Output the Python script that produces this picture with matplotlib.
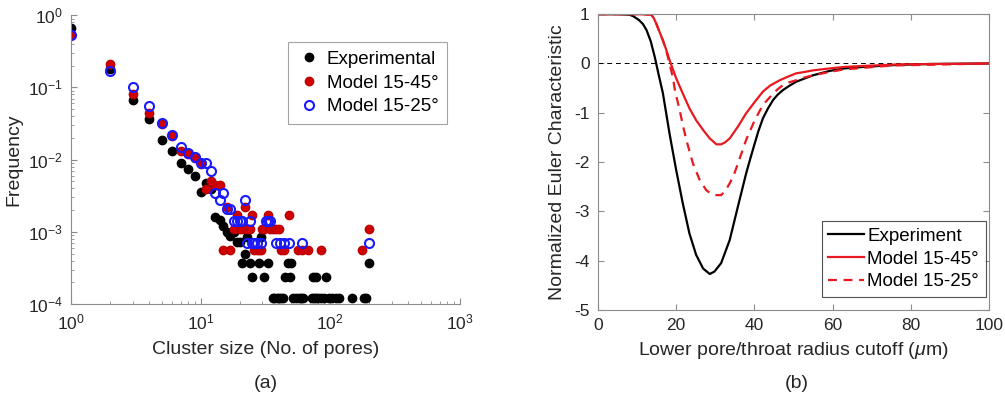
import numpy as np
import matplotlib
matplotlib.use("Agg")
import matplotlib.pyplot as plt

plt.rcParams['font.family'] = ['Liberation Sans', 'DejaVu Sans']
plt.rcParams['mathtext.fontset'] = 'custom'
plt.rcParams['mathtext.rm'] = 'Liberation Sans'
plt.rcParams['mathtext.it'] = 'Liberation Sans:italic'
plt.rcParams['axes.unicode_minus'] = False

# --- (a) cluster size distributions ---
exp_size = [1, 2, 3, 4, 5, 6, 7, 8, 9, 10, 11, 12, 13, 14, 15, 16, 17, 18, 19, 20,
            21, 22, 23, 24, 25, 28, 29, 31, 33, 36, 37, 39, 40, 42, 43, 45, 47, 49, 50,
            52, 54, 57, 59, 62, 72, 74, 75, 77, 78, 81, 85, 90, 93, 98, 104, 110, 116,
            147, 183, 190, 200]
exp_freq = [0.66, 0.18, 0.066, 0.037, 0.019, 0.0132, 0.0091, 0.0074, 0.0059, 0.0036,
            0.0047, 0.0039, 0.0016, 0.00145, 0.0012, 0.0010, 0.00089, 0.00098, 0.00073,
            0.00073, 0.00037, 0.00049, 0.00085, 0.00037, 0.00024, 0.00037, 0.00085,
            0.00024, 0.00037, 0.00012, 0.00012, 0.00012, 0.00012, 0.00012, 0.00012,
            0.00024, 0.00037, 0.00024, 0.00037, 0.00012, 0.00012, 0.00012, 0.00012,
            0.00012, 0.00012, 0.00024, 0.00012, 0.00024, 0.00012, 0.00012, 0.00012,
            0.00012, 0.00024, 0.00012, 0.00012, 0.00012, 0.00012, 0.00012, 0.00012,
            0.00012, 0.00037]

m45_size = [1, 2, 3, 4, 5, 6, 7, 8, 9, 10, 11, 12, 13, 14, 15, 16, 17, 18, 19, 20,
            21, 22, 23, 24, 25, 26, 27, 28, 29, 30, 31, 33, 34, 36, 38, 40, 42, 44, 48,
            56, 61, 67, 85, 177, 200]
m45_freq = [0.53, 0.21, 0.081, 0.044, 0.031, 0.021, 0.013, 0.012, 0.0105, 0.0088,
            0.0039, 0.0050, 0.0045, 0.0045, 0.00056, 0.0022, 0.00056, 0.0011, 0.0017,
            0.0011, 0.0011, 0.0022, 0.0011, 0.0011, 0.0017, 0.00056, 0.00056, 0.00056,
            0.00056, 0.0011, 0.0011, 0.0017, 0.0011, 0.0011, 0.0011, 0.0011, 0.00056,
            0.00056, 0.0017, 0.00056, 0.00056, 0.00056, 0.00056, 0.00056, 0.0011]

m25_size = [1, 2, 3, 4, 5, 6, 7, 8, 9, 10, 11, 12, 13, 14, 15, 16, 17, 18, 19, 20,
            21, 22, 23, 24, 25, 26, 27, 29, 32, 33, 34, 38, 41, 44, 48, 61, 200]
m25_freq = [0.53, 0.17, 0.10, 0.056, 0.032, 0.022, 0.015, 0.0124, 0.011, 0.0091,
            0.0091, 0.0070, 0.0035, 0.0028, 0.0035, 0.0021, 0.0021, 0.0014, 0.0014,
            0.0014, 0.0014, 0.0028, 0.00069, 0.0014, 0.00069, 0.00069, 0.00069,
            0.00069, 0.0014, 0.0014, 0.0014, 0.00069, 0.00069, 0.00069, 0.00069,
            0.00069, 0.00069]

# --- (b) normalized Euler characteristic vs radius cutoff ---
exp_r = [0, 5, 8, 9, 10.5, 11.5, 12.4, 13.5, 14.5, 15.5, 16.6, 18.3, 20.0, 21.7, 23.4,
         25.1, 26.9, 28.6, 29.8, 31.5, 33.7, 35.8, 37.9, 39.0, 40.1, 41.0, 42.2, 43.5,
         44.8, 46.0, 47.3, 49.0, 50.7, 53.0, 55, 59.3, 63.0, 67.8, 72.0, 76.3, 84.8, 100]
exp_chi = [1, 1, 0.99, 0.96, 0.88, 0.80, 0.68, 0.45, 0.14, -0.22, -0.6, -1.42, -2.16,
           -2.84, -3.45, -3.88, -4.16, -4.27, -4.22, -4.05, -3.58, -2.9, -2.23, -1.92,
           -1.62, -1.38, -1.11, -0.91, -0.74, -0.63, -0.54, -0.45, -0.37, -0.30, -0.24,
           -0.15, -0.10, -0.07, -0.05, -0.03, -0.01, 0]

m45_r = [0, 10, 13.6, 14.2, 14.9, 15.7, 16.6, 17.5, 18.3, 20.0, 21.7, 23.4, 25.1, 26.9,
         28.6, 30.3, 31.5, 32.5, 33.7, 35.8, 37.9, 40.1, 42.2, 44.0, 46.5, 48.5, 50.7,
         53.0, 55, 59.3, 63.0, 67.8, 76.3, 100]
m45_chi = [1, 1, 0.99, 0.93, 0.81, 0.65, 0.47, 0.27, 0.07, -0.30, -0.61, -0.91, -1.15,
           -1.35, -1.52, -1.64, -1.64, -1.60, -1.52, -1.28, -1.01, -0.78, -0.57, -0.45,
           -0.34, -0.27, -0.2, -0.17, -0.14, -0.10, -0.07, -0.05, -0.02, 0]

m25_r = [0, 10, 13.6, 14.2, 14.9, 15.7, 16.6, 17.5, 18.3, 19.2, 19.7, 20.9, 21.8, 22.6,
         24.3, 26.0, 27.7, 28.7, 29.8, 31.5, 32.6, 33.7, 34.8, 35.8, 37.9, 39.0, 40.1,
         42.2, 44.8, 46.0, 47.3, 49.0, 50.7, 53.0, 55, 59.3, 63.0, 67.8, 72.0, 76.3, 100]
m25_chi = [1, 1, 0.99, 0.93, 0.81, 0.65, 0.47, 0.25, 0.0, -0.3, -0.55, -0.95, -1.28,
           -1.55, -2.03, -2.36, -2.57, -2.63, -2.67, -2.67, -2.58, -2.43, -2.25, -2.03,
           -1.55, -1.35, -1.15, -0.84, -0.61, -0.52, -0.44, -0.38, -0.34, -0.28, -0.24,
           -0.17, -0.12, -0.09, -0.06, -0.04, 0]

text_color = '#262626'
spine_color = '#8c8c8c'

fig = plt.figure(figsize=(10.05, 4.12), dpi=100)
ax1 = fig.add_axes([0.0706, 0.262, 0.387, 0.701])
ax2 = fig.add_axes([0.595, 0.2476, 0.389, 0.718])

# scatter on log-log axes
ax1.plot(exp_size, exp_freq, 'o', color='black', ms=6, mec='black', label='Experimental')
ax1.plot(m45_size, m45_freq, 'o', color='#d00000', ms=6, mec='#c00000', label='Model 15-45°')
ax1.plot(m25_size, m25_freq, 'o', mfc='none', mec='#1a1aff', mew=1.5, ms=6.5,
         label='Model 15-25°')
ax1.set_xscale('log')
ax1.set_yscale('log')
ax1.set_xlim(1, 1000)
ax1.set_ylim(1e-4, 1)
ax1.set_xlabel('Cluster size (No. of pores)', fontsize=14, color=text_color, labelpad=6)
ax1.set_ylabel('Frequency', fontsize=14, color=text_color)
ax1.spines['top'].set_visible(False)
ax1.spines['right'].set_visible(False)
leg1 = ax1.legend(loc='upper right', bbox_to_anchor=(0.967, 0.906), fontsize=13.5,
                  frameon=True, fancybox=False, edgecolor=spine_color,
                  handletextpad=0.3, borderpad=0.45, labelspacing=0.35, handlelength=1.3,
                  borderaxespad=0)
leg1.get_frame().set_linewidth(0.8)

# Euler characteristic curves
ax2.axhline(0, color='black', ls='--', lw=0.7, dashes=(5, 4))
ax2.plot(exp_r, exp_chi, color='black', lw=1.6, label='Experiment')
ax2.plot(m45_r, m45_chi, color='#e8191f', lw=1.6, label='Model 15-45°')
ax2.plot(m25_r, m25_chi, color='#e8191f', lw=1.6, ls='--', dashes=(4, 3),
         label='Model 15-25°')
ax2.set_xlim(0, 100)
ax2.set_ylim(-5, 1)
ax2.set_xticks([0, 20, 40, 60, 80, 100])
ax2.set_yticks([1, 0, -1, -2, -3, -4, -5])
ax2.set_xlabel(r'Lower pore/throat radius cutoff ($\mu$m)', fontsize=14, color=text_color,
               labelpad=5)
ax2.set_ylabel('Normalized Euler Characteristic', fontsize=14, color=text_color,
               labelpad=6)
leg2 = ax2.legend(loc='lower right', bbox_to_anchor=(0.992, 0.044), fontsize=13.5,
                  frameon=True, fancybox=False, edgecolor=text_color,
                  handlelength=1.9, handletextpad=0.2, borderpad=0.35, labelspacing=0.3,
                  borderaxespad=0)
leg2.get_frame().set_linewidth(0.8)

for ax in (ax1, ax2):
    ax.tick_params(which='both', direction='in', colors=spine_color,
                   labelcolor=text_color, labelsize=12.5, pad=6)
    ax.tick_params(which='major', length=4)
    ax.tick_params(which='minor', length=2)
    for s in ax.spines.values():
        s.set_color(spine_color)
        s.set_linewidth(0.8)
ax2.tick_params(which='both', top=True, right=True)

fig.text(0.264, 0.07, '(a)', ha='center', va='center', fontsize=14, color=text_color)
fig.text(0.793, 0.07, '(b)', ha='center', va='center', fontsize=14, color=text_color)

fig.savefig('out.png', dpi=100)
